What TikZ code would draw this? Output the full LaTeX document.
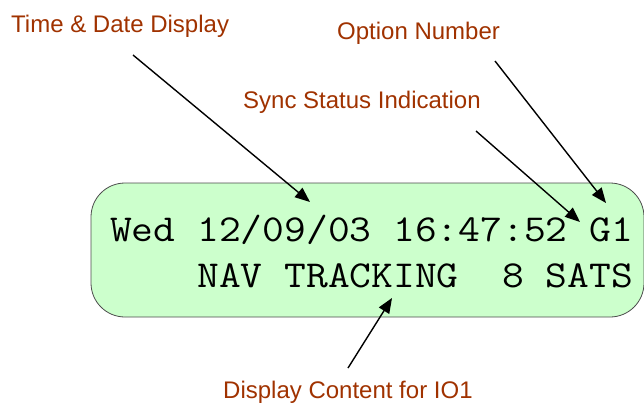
\documentclass[tikz,border=0pt]{standalone}
\usepackage{fontspec}
\usepackage{graphicx}
\setmainfont{Liberation Sans}
\usetikzlibrary{arrows.meta}
\definecolor{lcdgreen}{RGB}{204,255,204}
\definecolor{callout}{RGB}{160,50,0}
\newcommand{\lcdtext}[1]{\scalebox{1}[0.9]{#1}}
\tikzset{
	screen/.style={
		draw = black!70,
		fill = lcdgreen,
		rounded corners = 34pt,
		line width = 0.8pt,
		minimum width = 553pt,
		minimum height = 134pt,
		inner sep = 0pt
	},
	lcdline/.style={
		anchor = base west,
		inner sep = 0pt,
		font = \ttfamily\fontsize{42.3}{45}\selectfont
	},
	callout/.style={
		anchor = west,
		inner sep = 0pt,
		text = callout,
		font = \fontsize{24}{28}\selectfont
	},
}
\tikzset{>={Triangle[length=15pt,width=12pt]}}

\begin{document}
\begin{tikzpicture}[x=1pt, y=-1pt]
    \useasboundingbox (0,0) rectangle (644,407);
    % the display window
    \node[screen] (lcd) at (367.5,250) {};
    \node[lcdline] (row1) at (110,241) {\lcdtext{Wed 12/09/03 16:47:52 G1}};
    \node[lcdline] (row2) at (110,287) {\lcdtext{\phantom{Wed }NAV TRACKING\ \ 8 SATS}};
    % labels
    \node[callout] (timedate) at (11,26) {Time \& Date Display};
    \node[callout] (option) at (337,33) {Option Number};
    \node[callout] (sync) at (243,102) {Sync Status Indication};
    \node[callout] (content) at (223,392) {Display Content for IO1};
    % arrow ends
    \coordinate (td0) at (133,55);
    \coordinate (td1) at (310,202);
    \coordinate (op0) at (495,61);
    \coordinate (op1) at (606,203);
    \coordinate (sy0) at (476,131);
    \coordinate (sy1) at (580,222);
    \coordinate (dc0) at (348,368);
    \coordinate (dc1) at (392,298);
    \foreach \a/\b in {td0/td1, op0/op1, sy0/sy1, dc0/dc1}{
      \draw[->, line width=1.4pt] (\a) -- (\b);
    }
\end{tikzpicture}
\end{document}
